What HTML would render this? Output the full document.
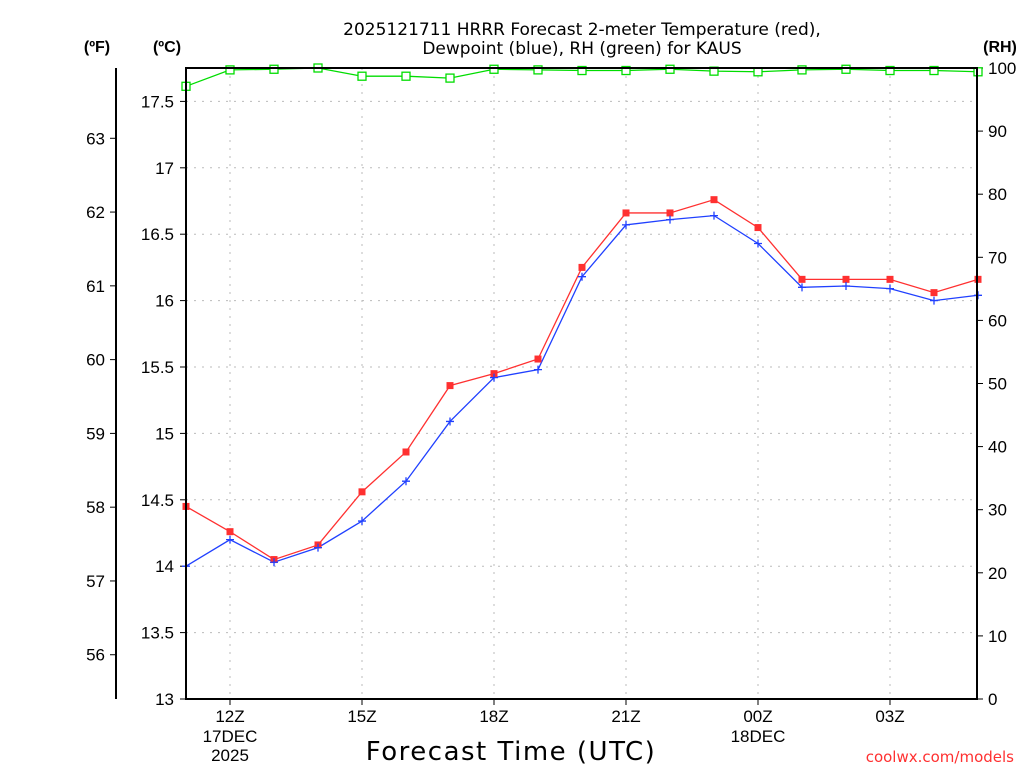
<!DOCTYPE html>
<html><head><meta charset="utf-8"><style>
body{margin:0;background:#fff;}
svg{display:block;font-family:"Liberation Sans","DejaVu Sans",sans-serif;}
</style></head><body>
<svg id="chart" width="1024" height="768">
<text x="582" y="35" text-anchor="middle" font-size="17" font-family="DejaVu Sans">2025121711 HRRR Forecast 2-meter Temperature (red),</text>
<text x="582" y="54" text-anchor="middle" font-size="17" font-family="DejaVu Sans">Dewpoint (blue), RH (green) for KAUS</text>
<text x="97" y="52" text-anchor="middle" font-size="16" font-weight="bold">(ºF)</text>
<text x="167" y="52" text-anchor="middle" font-size="16" font-weight="bold">(ºC)</text>
<text x="1000" y="52" text-anchor="middle" font-size="16" font-weight="bold">(RH)</text>
<text x="511" y="760" text-anchor="middle" font-size="26" font-family="DejaVu Sans" letter-spacing="1.5">Forecast Time (UTC)</text>
<text x="1014" y="762" text-anchor="end" font-size="15" fill="#ff3030" font-family="DejaVu Sans">coolwx.com/models</text>
<g id="grid"></g><g id="axes"></g><g id="series"></g>
<rect x="186" y="68" width="791" height="631" fill="none" stroke="#000" stroke-width="2"/>
</svg>
<script>
const hours=[0,1,2,3,4,5,6,7,8,9,10,11,12,13,14,15,16,17,18];
const tempC=[14.45,14.26,14.05,14.16,14.56,14.86,15.36,15.45,15.56,16.25,16.66,16.66,16.76,16.55,16.16,16.16,16.16,16.06,16.16];
const dewC=[14.0,14.2,14.03,14.14,14.34,14.64,15.09,15.42,15.48,16.18,16.57,16.61,16.64,16.43,16.10,16.11,16.09,16.0,16.04];
const rh=[97.1,99.7,99.8,100,98.7,98.7,98.4,99.8,99.7,99.6,99.6,99.8,99.5,99.4,99.7,99.8,99.6,99.6,99.4];
const cTicks=[13,13.5,14,14.5,15,15.5,16,16.5,17,17.5];
const fTicks=[56,57,58,59,60,61,62,63];
const rhTicks=[0,10,20,30,40,50,60,70,80,90,100];
const xTickHours=[1,4,7,10,13,16];
const xTickLabels=["12Z","15Z","18Z","21Z","00Z","03Z"];
const xSubLabels=[["17DEC","2025"],[],[],[],["18DEC"],[]];
const NS="http://www.w3.org/2000/svg";
const X=h=>186+h*44;
const YC=c=>699-(c-13)*132.8;
const YR=r=>699-r*6.31;
const YF=f=>YC((f-32)*5/9);
function mk(t,a,p){const e=document.createElementNS(NS,t);for(const k in a)e.setAttribute(k,a[k]);p.appendChild(e);return e;}
const grid=document.getElementById('grid'),axes=document.getElementById('axes'),ser=document.getElementById('series');
cTicks.forEach(c=>{const y=YC(c);
 const g=mk('line',{x1:186,x2:977,y1:y,y2:y,stroke:'#bbb','stroke-dasharray':'2,6'},grid);
 
 
 mk('line',{x1:180,x2:186,y1:y,y2:y,stroke:'#000'},axes);
 const t=mk('text',{x:174,y:y+6,'text-anchor':'end','font-size':17},axes);t.textContent=c;
 
 });
mk('line',{x1:116,x2:116,y1:68,y2:699,stroke:'#000','stroke-width':2},axes);
fTicks.forEach(f=>{const y=YF(f);
 mk('line',{x1:110,x2:116,y1:y,y2:y,stroke:'#000'},axes);
 const t=mk('text',{x:105,y:y+6,'text-anchor':'end','font-size':17},axes);t.textContent=f;
 
 });
rhTicks.forEach(r=>{const y=YR(r);
 mk('line',{x1:977,x2:983,y1:y,y2:y,stroke:'#000'},axes);
 const t=mk('text',{x:988,y:y+6,'font-size':17},axes);t.textContent=r;
 
 });
xTickHours.forEach((h,i)=>{const x=X(h);
 const g=mk('line',{x1:x,x2:x,y1:68,y2:699,stroke:'#bbb','stroke-dasharray':'2,6'},grid);
 
 
 mk('line',{x1:x,x2:x,y1:699,y2:705,stroke:'#000'},axes);
 const t=mk('text',{x:x,y:722,'text-anchor':'middle','font-size':17},axes);t.textContent=xTickLabels[i];
 
 
 xSubLabels[i].forEach((s,j)=>{const u=mk('text',{x:x,y:742+j*19,'text-anchor':'middle','font-size':17},axes);u.textContent=s;
 
 });});
function line(vals,yf,color,name){
 const pts=hours.map((h,i)=>X(h)+','+yf(vals[i])).join(' ');
 const l=mk('polyline',{points:pts,fill:'none',stroke:color,'stroke-width':1.3},ser);
 
 }
line(rh,YR,'#00dd00','rh-line');
line(tempC,YC,'#ff3030','temperature-line');
line(dewC,YC,'#2040ff','dewpoint-line');
hours.forEach((h,i)=>{
 const r=mk('rect',{x:X(h)-4,y:YR(rh[i])-4,width:8,height:8,fill:'#fff',stroke:'#00dd00','stroke-width':1.3},ser);
 
 
 const t=mk('rect',{x:X(h)-3.5,y:YC(tempC[i])-3.5,width:7,height:7,fill:'#ff3030'},ser);
 
 
 const x=X(h),y=YC(dewC[i]);
 const d=mk('path',{d:`M${x-4},${y}H${x+4}M${x},${y-4}V${y+4}`,stroke:'#2040ff','stroke-width':1.3},ser);
 
 });
</script>
</body></html>
